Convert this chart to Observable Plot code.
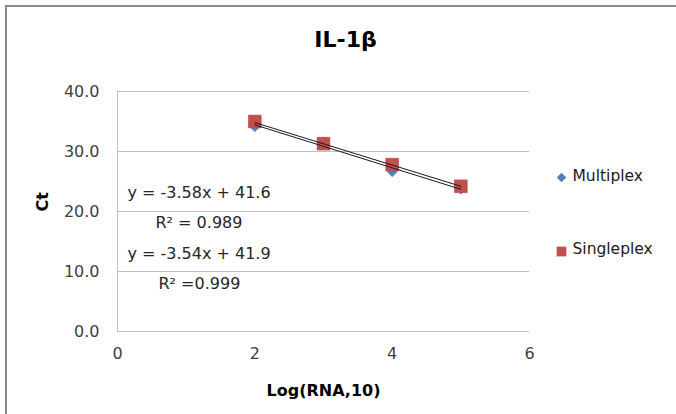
<!DOCTYPE html>
<html>
<head>
<meta charset="utf-8">
<script src="https://cdn.jsdelivr.net/npm/d3@7"></script>
<script src="https://cdn.jsdelivr.net/npm/@observablehq/plot@0.6"></script>
<style>
  html, body { margin: 0; padding: 0; background: #fff; }
  #wrap { position: relative; width: 676px; height: 414px; overflow: hidden; font-family: "DejaVu Sans", Verdana, sans-serif; }
  #frame { position: absolute; left: 5px; top: 5px; width: 700px; height: 440px; border: 2px solid #8c8c8c; box-sizing: border-box; }
  #chart { position: absolute; left: 0; top: 0; }
</style>
</head>
<body>
<div id="wrap"><div id="frame"></div><div id="chart"></div></div>
<script>
// Data
const logRNA = [2, 3, 4, 5];
const multiplexCt = [34.1, 31.6, 26.6, 23.7];
const singleplexCt = [35.0, 31.3, 27.8, 24.2];
const seriesNames = ["Multiplex", "Singleplex"];
const seriesColors = ["#4f81bd", "#c0504d"];
const trendSlopes = [-3.58, -3.54];
const trendIntercepts = [41.6, 41.9];
const equationLabels = ["y = -3.58x + 41.6", "R\u00b2 = 0.989", "y = -3.54x + 41.9", "R\u00b2 =0.999"];
const xTicks = [0, 2, 4, 6];
const yTicks = [0, 10, 20, 30, 40];
const titleText = "IL-1\u03b2";
const xTitle = "Log(RNA,10)";
const yTitle = "Ct";

const multiplex = logRNA.map((x, i) => ({x, y: multiplexCt[i]}));
const singleplex = logRNA.map((x, i) => ({x, y: singleplexCt[i]}));
const xMin = d3.min(logRNA), xMax = d3.max(logRNA);
const trend = trendSlopes.flatMap((s, k) => [xMin, xMax].map(x => ({series: seriesNames[k], x, y: trendIntercepts[k] + s * x})));

const font = "DejaVu Sans, Verdana, sans-serif";
const grid = "#bfbfbf";
const txt = {fontSize: 16, fill: "#262626", textAnchor: "start", lineAnchor: "middle", frameAnchor: "top-left"};

const chart = Plot.plot({
  width: 676,
  height: 414,
  marginLeft: 117,
  marginRight: 147,
  marginTop: 91,
  marginBottom: 83,
  style: {fontFamily: font, background: "transparent", overflow: "visible"},
  x: {domain: [0, 6]},
  y: {domain: [0, 40]},
  marks: [
    Plot.ruleY(yTicks, {stroke: grid, strokeWidth: 1}),
    Plot.ruleX([0], {stroke: grid, strokeWidth: 1}),
    Plot.axisX({ticks: xTicks, tickSize: 0, tickPadding: 16, tickFormat: d3.format("d"), fontSize: 16, fill: "#404040", label: null}),
    Plot.axisY({ticks: yTicks, tickSize: 0, tickPadding: 18, tickFormat: d3.format(".1f"), fontSize: 16, fill: "#404040", label: null}),
    Plot.dot(multiplex, {x: "x", y: "y", symbol: "diamond2", r: 4.6, fill: seriesColors[0], stroke: "none"}),
    Plot.dot(singleplex, {x: "x", y: "y", symbol: "square", r: 7.2, fill: seriesColors[1], stroke: "#b2433f", strokeWidth: 0.6}),
    Plot.line(trend, {x: "x", y: "y", z: "series", stroke: "#1a1a1a", strokeWidth: 1}),
    // equation labels
    Plot.text([equationLabels[0]], {...txt, dx: 10, dy: 101}),
    Plot.text([equationLabels[1]], {...txt, dx: 38, dy: 131}),
    Plot.text([equationLabels[2]], {...txt, dx: 10, dy: 162}),
    Plot.text([equationLabels[3]], {...txt, dx: 41, dy: 192}),
    // titles
    Plot.text([titleText], {frameAnchor: "top", lineAnchor: "middle", dx: 22, dy: -52, fontSize: 22, fontWeight: "bold", fill: "#000"}),
    Plot.text([xTitle], {frameAnchor: "bottom", lineAnchor: "middle", dy: 59, fontSize: 16, fontWeight: "bold", fill: "#000"}),
    Plot.text([yTitle], {frameAnchor: "left", lineAnchor: "middle", dx: -75, rotate: -90, fontSize: 16, fontWeight: "bold", fill: "#000"}),
    // legend
    Plot.dot([seriesNames[0]], {frameAnchor: "top-right", dx: 32, dy: 86, symbol: "diamond2", r: 4.3, fill: seriesColors[0]}),
    Plot.text([seriesNames[0]], {frameAnchor: "top-right", lineAnchor: "middle", dx: 43, dy: 85, textAnchor: "start", fontSize: 15.5, fill: "#1a1a1a"}),
    Plot.dot([seriesNames[1]], {frameAnchor: "top-right", dx: 32, dy: 160, symbol: "square", r: 5.5, fill: seriesColors[1]}),
    Plot.text([seriesNames[1]], {frameAnchor: "top-right", lineAnchor: "middle", dx: 43, dy: 158, textAnchor: "start", fontSize: 15.5, fill: "#1a1a1a"})
  ]
});
document.getElementById("chart").appendChild(chart);
</script>
</body>
</html>
